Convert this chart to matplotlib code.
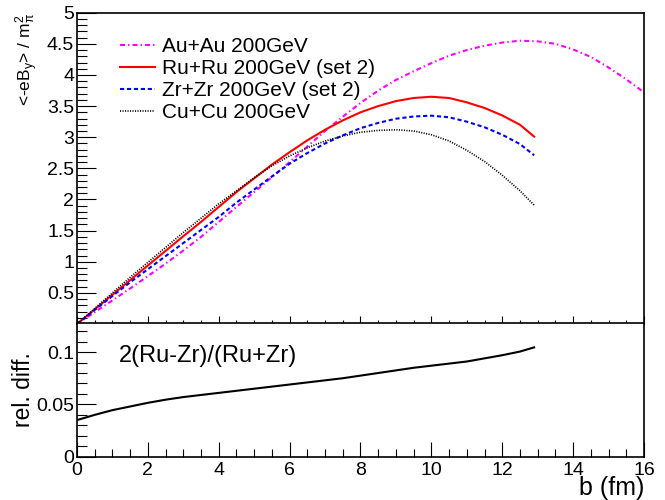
import numpy as np
import matplotlib
matplotlib.use("Agg")
import matplotlib.pyplot as plt
from matplotlib.ticker import MultipleLocator, FuncFormatter

plt.rcParams["font.family"] = ["Liberation Sans", "DejaVu Sans"]
plt.rcParams["mathtext.fontset"] = "custom"
plt.rcParams["mathtext.rm"] = "Liberation Sans"
plt.rcParams["mathtext.it"] = "Liberation Sans"
plt.rcParams["lines.scale_dashes"] = False

# impact parameter grid (fm)
b_full = [0.0, 0.5, 1.0, 1.5, 2.0, 2.5, 3.0, 3.5, 4.0, 4.5, 5.0, 5.5, 6.0, 6.5,
          7.0, 7.5, 8.0, 8.5, 9.0, 9.5, 10.0, 10.5, 11.0, 11.5, 12.0, 12.5,
          13.0, 13.5, 14.0, 14.5, 15.0, 15.5, 16.0]
b_short = [0.0, 0.5, 1.0, 1.5, 2.0, 2.5, 3.0, 3.5, 4.0, 4.5, 5.0, 5.5, 6.0, 6.5,
           7.0, 7.5, 8.0, 8.5, 9.0, 9.5, 10.0, 10.5, 11.0, 11.5, 12.0, 12.5, 12.9]

# <-eB_y> / m_pi^2
auau = [0.0, 0.19, 0.38, 0.57, 0.77, 0.97, 1.18, 1.40, 1.64, 1.88, 2.12, 2.36,
        2.60, 2.85, 3.10, 3.33, 3.55, 3.75, 3.92, 4.06, 4.19, 4.31, 4.40, 4.47,
        4.52, 4.55, 4.54, 4.50, 4.41, 4.29, 4.12, 3.93, 3.72]
ruru = [0.0, 0.235, 0.47, 0.705, 0.94, 1.175, 1.41, 1.64, 1.88, 2.12, 2.34,
        2.56, 2.76, 2.95, 3.12, 3.27, 3.40, 3.50, 3.58, 3.63, 3.65, 3.63, 3.56,
        3.47, 3.35, 3.20, 3.01]
zrzr = [0.0, 0.226, 0.449, 0.67, 0.88, 1.09, 1.30, 1.51, 1.72, 1.95, 2.16,
        2.37, 2.575, 2.746, 2.90, 3.03, 3.145, 3.23, 3.297, 3.333, 3.346, 3.32,
        3.25, 3.16, 3.04, 2.89, 2.71]
cucu = [0.0, 0.25, 0.50, 0.75, 0.99, 1.23, 1.47, 1.70, 1.93, 2.14, 2.35, 2.54,
        2.70, 2.83, 2.94, 3.02, 3.08, 3.11, 3.12, 3.10, 3.04, 2.94, 2.79, 2.61,
        2.39, 2.14, 1.91]

# 2(Ru-Zr)/(Ru+Zr)
reldiff = [0.035, 0.040, 0.0445, 0.048, 0.0515, 0.0545, 0.057, 0.059, 0.061,
           0.063, 0.065, 0.067, 0.069, 0.071, 0.073, 0.075, 0.0775, 0.080,
           0.0825, 0.085, 0.087, 0.089, 0.091, 0.094, 0.097, 0.1005, 0.1045]

labels = ["Au+Au 200GeV", "Ru+Ru 200GeV (set 2)", "Zr+Zr 200GeV (set 2)", "Cu+Cu 200GeV"]

fig = plt.figure(figsize=(6.65, 5), dpi=100)
ax1 = fig.add_axes([0.1158, 0.352, 0.8526, 0.6226])
ax2 = fig.add_axes([0.1158, 0.0866, 0.8526, 0.2674])

fmt = FuncFormatter(lambda v, p: "%g" % round(v, 4))

ax1.plot(b_full, auau, color="#ff00ff", lw=1.5, dashes=(3.6, 2.2, 1.0, 2.2), label=labels[0])
ax1.plot(b_short, ruru, color="#ff0000", lw=1.5, label=labels[1])
ax1.plot(b_short, zrzr, color="#0000ff", lw=1.5, dashes=(3.0, 2.0), label=labels[2])
ax1.plot(b_short, cucu, color="black", lw=1.2, dashes=(0.8, 1.0), label=labels[3])

ax1.set_xlim(0, 16)
ax1.set_ylim(0, 5)
ax1.set_yticks(np.arange(0.5, 5.01, 0.5))
ax1.yaxis.set_minor_locator(MultipleLocator(0.1))
ax1.xaxis.set_major_locator(MultipleLocator(2))
ax1.xaxis.set_minor_locator(MultipleLocator(0.5))
ax1.yaxis.set_major_formatter(fmt)
ax1.tick_params(axis="x", which="both", direction="in", labelbottom=False, top=False)
ax1.tick_params(axis="x", which="major", length=5.8, width=0.8)
ax1.tick_params(axis="x", which="minor", length=2.9, width=0.8)
ax1.tick_params(axis="y", which="both", direction="in", right=False, labelsize=14, pad=2)
ax1.tick_params(axis="y", which="major", length=13.7, width=0.8)
ax1.tick_params(axis="y", which="minor", length=7.2, width=0.8)
ax1.set_ylabel(r"<-eB$_{y}$> / m$_{\pi}^{2}$", fontsize=12.5, loc="top", labelpad=5)

leg = ax1.legend(loc="upper left", bbox_to_anchor=(0.0758, 0.922), frameon=False,
                 fontsize=15, handlelength=1.7, handletextpad=0.3,
                 labelspacing=0.15, borderpad=0, borderaxespad=0)

ax2.plot(b_short, reldiff, color="black", lw=1.5)
ax2.set_xlim(0, 16)
ax2.set_ylim(0, 0.1278)
ax2.set_yticks([0, 0.05, 0.1])
ax2.yaxis.set_minor_locator(MultipleLocator(0.01))
ax2.xaxis.set_major_locator(MultipleLocator(2))
ax2.xaxis.set_minor_locator(MultipleLocator(0.5))
ax2.xaxis.set_major_formatter(fmt)
ax2.yaxis.set_major_formatter(fmt)
ax2.tick_params(axis="both", which="both", direction="in", top=False, right=False, width=0.8)
ax2.tick_params(axis="x", which="major", length=10.8, labelsize=14, pad=4)
ax2.tick_params(axis="x", which="minor", length=5.8)
ax2.tick_params(axis="y", which="major", length=13.7, labelsize=14, pad=2)
ax2.tick_params(axis="y", which="minor", length=7.2)
ax2.set_xlabel("b (fm)", fontsize=18, loc="right", labelpad=-2)
ax2.set_ylabel("rel. diff.", fontsize=16.5, labelpad=1)
ax2.text(0.074, 0.75, "2(Ru-Zr)/(Ru+Zr)", transform=ax2.transAxes, fontsize=17,
         va="center", ha="left")

for ax in (ax1, ax2):
    for s in ax.spines.values():
        s.set_linewidth(1.2)

fig.savefig("out.png", dpi=100)
